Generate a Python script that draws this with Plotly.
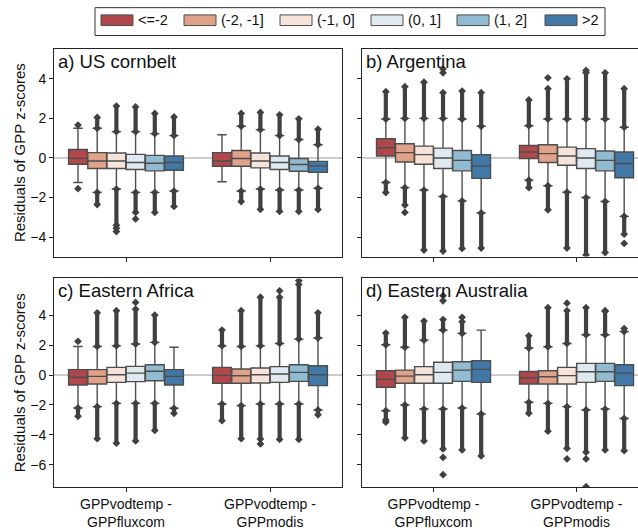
import plotly.graph_objects as go

# ---------------- data ----------------
bins = ["<=-2", "(-2, -1]", "(-1, 0]", "(0, 1]", "(1, 2]", ">2"]
colors = ["#b0484b", "#e1a28a", "#f6e4da", "#dfe9ef", "#91bbd0", "#4178a5"]
products = ["GPPvodtemp -<br>GPPfluxcom", "GPPvodtemp -<br>GPPmodis"]
panel_titles = ["a) US cornbelt", "b) Argentina", "c) Eastern Africa", "d) Eastern Australia"]
y_title = "Residuals of GPP z-scores"

# each list: 6 bins for GPPfluxcom, then 6 bins for GPPmodis
# a) US cornbelt
us_q3 = [0.43, 0.27, 0.25, 0.18, 0.13, 0.10, 0.27, 0.38, 0.25, 0.10, -0.03, -0.17]
us_med = [-0.02, -0.15, -0.15, -0.23, -0.27, -0.23, -0.15, -0.03, -0.15, -0.23, -0.33, -0.40]
us_q1 = [-0.32, -0.53, -0.53, -0.58, -0.65, -0.62, -0.42, -0.42, -0.50, -0.58, -0.67, -0.73]
us_whi = [1.50, 1.50, 1.33, 1.33, 1.23, 1.13, 1.17, 1.60, 1.43, 1.13, 0.93, 0.67]
us_wlo = [-1.24, -1.74, -1.57, -1.74, -1.74, -1.67, -1.20, -1.67, -1.57, -1.62, -1.62, -1.53]
us_ohi = [None, 2.05, 2.62, 2.58, 2.25, 2.07, None, 2.25, 2.30, 2.18, 1.98, 1.45]
us_olo = [None, -2.35, -3.40, -2.75, -2.75, -2.45, None, -2.20, -2.60, -2.70, -2.70, -2.60]
us_extra = [(0, 1.66), (0, -1.55), (2, -3.55), (2, -3.72), (3, -3.08)]

# b) Argentina
ar_q3 = [0.97, 0.72, 0.60, 0.50, 0.38, 0.17, 0.63, 0.67, 0.55, 0.47, 0.35, 0.30]
ar_med = [0.52, 0.27, 0.17, 0.00, -0.12, -0.40, 0.30, 0.22, 0.10, 0.00, -0.12, -0.28]
ar_q1 = [0.10, -0.20, -0.32, -0.53, -0.65, -1.03, -0.03, -0.23, -0.37, -0.53, -0.65, -1.00]
ar_whi = [1.97, 2.00, 2.00, 2.00, 1.97, 1.60, 1.63, 1.97, 1.97, 1.97, 1.97, 1.55]
ar_wlo = [-1.24, -1.50, -1.62, -1.95, -2.17, -2.78, -1.12, -1.40, -1.73, -2.00, -2.20, -2.95]
ar_ohi = [3.35, 3.60, 3.83, 3.30, 3.38, 3.30, 2.93, 3.50, 4.00, 4.30, 4.30, 3.50]
ar_olo = [-1.75, -2.38, -4.65, -4.70, -4.57, -4.55, -1.50, -2.62, -4.55, -4.90, -4.78, -3.85]
ar_extra = [(3, 4.30), (3, 4.50), (1, -2.75), (7, 4.05), (9, 4.42), (11, -4.32)]

# c) Eastern Africa
ea_q3 = [0.36, 0.36, 0.51, 0.58, 0.69, 0.36, 0.51, 0.40, 0.47, 0.56, 0.69, 0.62]
ea_med = [-0.15, -0.09, 0.02, 0.13, 0.25, -0.09, -0.02, -0.05, 0.02, 0.07, 0.18, 0.02]
ea_q1 = [-0.67, -0.60, -0.49, -0.44, -0.38, -0.67, -0.55, -0.55, -0.53, -0.49, -0.42, -0.71]
ea_whi = [1.91, 1.91, 1.95, 2.07, 2.18, 1.85, 1.95, 1.91, 1.95, 2.11, 2.40, 2.47]
ea_wlo = [-2.20, -2.11, -1.89, -1.89, -1.89, -2.22, -1.93, -2.04, -1.93, -1.93, -1.93, -2.33]
ea_ohi = [None, 4.15, 4.30, 4.40, 4.00, None, 3.00, 4.30, 5.20, 5.20, 6.05, 4.15]
ea_olo = [-2.75, -4.25, -4.55, -4.40, -3.70, -2.55, -3.05, -4.25, -4.27, -4.30, -4.30, -2.65]
ea_extra = [(0, 2.25), (3, 4.85), (8, -4.60), (9, 5.62), (10, 6.30)]

# d) Eastern Australia
au_q3 = [0.29, 0.33, 0.56, 0.85, 0.89, 0.96, 0.24, 0.29, 0.51, 0.78, 0.78, 0.69]
au_med = [-0.29, -0.07, 0.02, 0.18, 0.33, 0.38, -0.20, -0.11, -0.04, 0.22, 0.22, 0.13]
au_q1 = [-0.82, -0.55, -0.55, -0.55, -0.42, -0.49, -0.60, -0.60, -0.60, -0.49, -0.42, -0.71]
au_whi = [2.02, 1.85, 2.33, 3.00, 2.78, 3.00, 1.80, 1.89, 2.11, 2.69, 2.69, 2.90]
au_wlo = [-2.38, -2.00, -2.27, -2.27, -2.20, -2.60, -1.82, -1.89, -2.11, -2.33, -2.27, -2.90]
au_ohi = [2.80, 3.85, 3.60, 3.70, 3.55, None, 2.62, 4.50, 4.30, 4.50, 4.25, 3.10]
au_olo = [-3.00, -4.20, -4.40, -4.93, -5.00, -5.40, -2.55, -3.75, -4.90, -5.15, -5.00, -5.05]
au_extra = [(0, -3.15), (3, 4.96), (3, 5.30), (3, -5.50), (3, -6.65), (4, 3.85),
            (8, 4.80), (8, -5.60), (9, -5.60), (9, -7.45), (10, 4.30)]

panels = [
    (us_q1, us_med, us_q3, us_wlo, us_whi, us_olo, us_ohi, us_extra),
    (ar_q1, ar_med, ar_q3, ar_wlo, ar_whi, ar_olo, ar_ohi, ar_extra),
    (ea_q1, ea_med, ea_q3, ea_wlo, ea_whi, ea_olo, ea_ohi, ea_extra),
    (au_q1, au_med, au_q3, au_wlo, au_whi, au_olo, au_ohi, au_extra),
]

# ---------------- figure ----------------
W, H = 638, 530
FONT = "Liberation Sans, Arial, sans-serif"
LINE = "#4d4d4d"
OUT = "#404040"
nh = len(bins)
step = 0.8 / nh
bw = step * 0.98


def pos(idx):
    g, h = divmod(idx, nh)
    return g + (h - (nh - 1) / 2) * step


fig = go.Figure()

for p, (q1, med, q3, wlo, whi, olo, ohi, extra) in enumerate(panels):
    ax = "" if p == 0 else str(p + 1)
    xa, ya = "x" + ax, "y" + ax
    for idx in range(len(q1)):
        h = idx % nh
        fig.add_trace(go.Box(
            x=[pos(idx)], q1=[q1[idx]], median=[med[idx]], q3=[q3[idx]],
            lowerfence=[wlo[idx]], upperfence=[whi[idx]],
            width=bw, whiskerwidth=0.5, boxpoints=False,
            fillcolor=colors[h], line=dict(color=LINE, width=1.4),
            showlegend=False, hoverinfo="skip", xaxis=xa, yaxis=ya))
    # dense outlier columns
    ox, oy = [], []
    for idx in range(len(q1)):
        if ohi[idx] is not None:
            ox += [pos(idx), pos(idx), None]
            oy += [whi[idx], ohi[idx], None]
        if olo[idx] is not None:
            ox += [pos(idx), pos(idx), None]
            oy += [wlo[idx], olo[idx], None]
    fig.add_trace(go.Scatter(
        x=ox, y=oy, mode="lines+markers", connectgaps=False,
        line=dict(color=OUT, width=4.2),
        marker=dict(symbol="diamond", size=6, color=OUT),
        showlegend=False, hoverinfo="skip", xaxis=xa, yaxis=ya))
    fig.add_trace(go.Scatter(
        x=[pos(i) for i, v in extra], y=[v for i, v in extra], mode="markers",
        marker=dict(symbol="diamond", size=6, color=OUT),
        showlegend=False, hoverinfo="skip", xaxis=xa, yaxis=ya))

# axes layout
x_dom = [[54 / W, 342 / W], [362 / W, 1.0]]
y_dom = [[1 - 258 / H, 1 - 49 / H], [1 - 490 / H, 1 - 280 / H]]
y_rng = [[-4.98, 5.52], [-7.49, 6.45]]
y_ticks = [[-4, -2, 0, 2, 4], [-6, -4, -2, 0, 2, 4]]
x_rng = [[-0.5, 1.5], [-0.5, 1.43]]

layout_axes = {}
for p in range(4):
    r, c = divmod(p, 2)
    ax = "" if p == 0 else str(p + 1)
    layout_axes["xaxis" + ax] = dict(
        domain=x_dom[c], range=x_rng[c], anchor="y" + ax,
        tickmode="array", tickvals=[0, 1], ticktext=products,
        showticklabels=(r == 1), ticks="outside", ticklen=4, tickwidth=1,
        tickcolor="#222", showline=True, linecolor="#222", linewidth=1,
        mirror=True, showgrid=False, zeroline=False,
        tickfont=dict(size=14, color="#111", family=FONT))
    layout_axes["yaxis" + ax] = dict(
        domain=y_dom[r], range=y_rng[r], anchor="x" + ax,
        tickmode="array", tickvals=y_ticks[r],
        showticklabels=(c == 0), ticks="outside", ticklen=4, tickwidth=1,
        tickcolor="#222", showline=True, linecolor="#222", linewidth=1,
        mirror=(c == 0), showgrid=False, zeroline=False,
        tickfont=dict(size=14, color="#111", family=FONT),
        title=dict(text=y_title if c == 0 else "", standoff=0,
                   font=dict(size=15, color="#111", family=FONT)))

shapes = []
annotations = []
for p in range(4):
    ax = "" if p == 0 else str(p + 1)
    shapes.append(dict(type="line", xref="x" + ax + " domain", yref="y" + ax,
                       x0=0, x1=1, y0=0, y1=0, layer="below",
                       line=dict(color="#9a9a9a", width=1)))
    annotations.append(dict(text=panel_titles[p], xref="x" + ax + " domain",
                            yref="y" + ax + " domain", x=0.006, y=1.0,
                            xanchor="left", yanchor="top", showarrow=False,
                            font=dict(size=18.5, color="#111", family=FONT)))

# legend (drawn manually to mimic matplotlib patches)
shapes.append(dict(type="rect", xref="paper", yref="paper",
                   x0=95 / W, x1=605 / W, y0=1 - 35.7 / H, y1=1 - 7.7 / H,
                   line=dict(color="#333", width=1), fillcolor="white"))
patch_x = [101, 184, 280, 371, 457, 545]
for h in range(nh):
    x0 = patch_x[h]
    shapes.append(dict(type="rect", xref="paper", yref="paper",
                       x0=x0 / W, x1=(x0 + 32) / W, y0=1 - 25.7 / H, y1=1 - 15 / H,
                       line=dict(color=LINE, width=1), fillcolor=colors[h]))
    annotations.append(dict(text=bins[h], xref="paper", yref="paper",
                            x=(x0 + 35) / W, y=1 - 20.5 / H, xanchor="left",
                            yanchor="middle", showarrow=False,
                            font=dict(size=14.5, color="#111", family=FONT)))

fig.update_layout(
    width=W, height=H, margin=dict(l=0, r=0, t=0, b=0),
    paper_bgcolor="white", plot_bgcolor="white",
    font=dict(family=FONT, size=14, color="#111"),
    showlegend=False, shapes=shapes, annotations=annotations,
    **layout_axes)

fig.write_html(
    "out.html",
    config={"displayModeBar": False},
    post_script="document.body.style.margin='0';document.body.style.overflow='hidden';")
